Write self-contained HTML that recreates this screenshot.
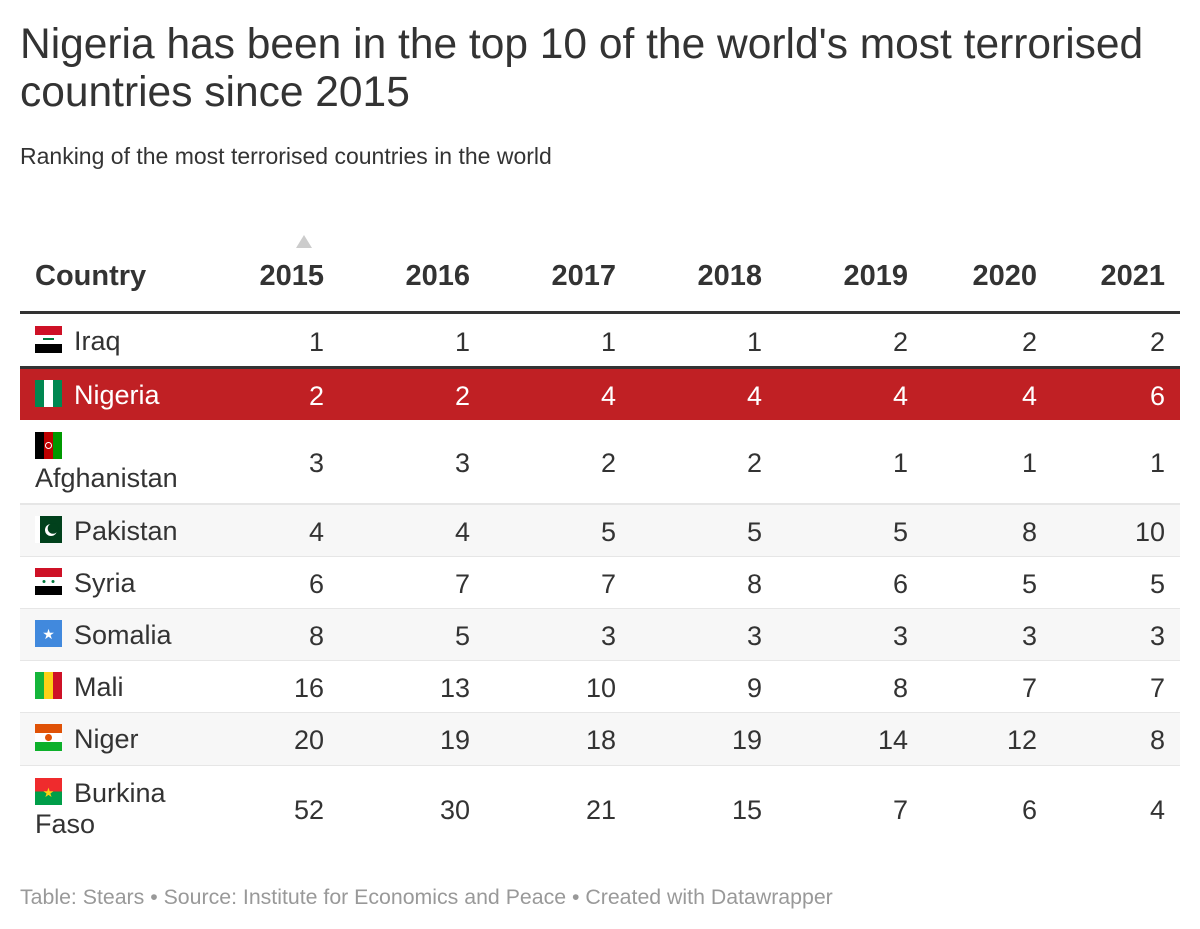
<!DOCTYPE html>
<html><head><meta charset="utf-8">
<style>
body{margin:0;width:1200px;height:929px;background:#fff;font-family:"Liberation Sans",Arial,sans-serif;color:#333;position:relative;overflow:hidden}
.abs{position:absolute}
#title{left:20px;top:21px;font-size:42.5px;line-height:48px;color:#333;width:1175px}
#sub{left:20px;top:143px;font-size:23px;color:#333}
.hd{font-weight:bold;font-size:29px;color:#333;top:260px}
.row{position:absolute;left:20px;width:1160px}
.cell{position:absolute;font-size:27px}
.name{position:absolute;font-size:27px;line-height:31px}
.flag{display:inline-block;width:27px;height:27px;vertical-align:-3px;margin-right:12px}
#foot{left:20px;top:885px;font-size:21.3px;color:#999}
</style></head><body>
<div class="abs" id="title">Nigeria has been in the top 10 of the world's most terrorised countries since 2015</div>
<div class="abs" id="sub">Ranking of the most terrorised countries in the world</div>
<div class="abs" style="left:296px;top:235px;width:0;height:0;border-left:8px solid transparent;border-right:8px solid transparent;border-bottom:13px solid #ccc"></div>
<div class="abs hd" style="left:35px">Country</div>
<div id="table"></div>
<div class="abs" style="left:20px;top:311px;width:1160px;height:3px;background:#333"></div>
<div class="abs" id="foot">Table: Stears • Source: Institute for Economics and Peace • Created with Datawrapper</div>
<script>
const years=["2015","2016","2017","2018","2019","2020","2021"];
const countries=["Iraq","Nigeria","Afghanistan","Pakistan","Syria","Somalia","Mali","Niger","Burkina Faso"];
const r2015=[1,2,3,4,6,8,16,20,52];
const r2016=[1,2,3,4,7,5,13,19,30];
const r2017=[1,4,2,5,7,3,10,18,21];
const r2018=[1,4,2,5,8,3,9,19,15];
const r2019=[2,4,1,5,6,3,8,14,7];
const r2020=[2,4,1,8,5,3,7,12,6];
const r2021=[2,6,1,10,5,3,7,8,4];
const series=[r2015,r2016,r2017,r2018,r2019,r2020,r2021];
const colRight=[324,470,616,762,908,1037,1165];
const flags={
"Iraq":'<svg class="flag" viewBox="0 0 27 27"><rect y="0" width="27" height="9" fill="#ce1126"/><rect y="9" width="27" height="9" fill="#fff"/><rect y="18" width="27" height="9" fill="#000"/><rect x="8" y="12" width="11" height="2" fill="#007a3d"/></svg>',
"Nigeria":'<svg class="flag" viewBox="0 0 27 27"><rect width="9" height="27" fill="#008751"/><rect x="9" width="9" height="27" fill="#fff"/><rect x="18" width="9" height="27" fill="#008751"/></svg>',
"Afghanistan":'<svg class="flag" viewBox="0 0 27 27"><rect width="9" height="27" fill="#000"/><rect x="9" width="9" height="27" fill="#be0000"/><rect x="18" width="9" height="27" fill="#009900"/><circle cx="13.5" cy="13.5" r="3" fill="none" stroke="#fff"/></svg>',
"Pakistan":'<svg class="flag" viewBox="0 0 27 27"><rect width="27" height="27" fill="#fff"/><rect x="5" width="22" height="27" fill="#01411c"/><circle cx="16" cy="14" r="6" fill="#fff"/><circle cx="18" cy="12.5" r="5.3" fill="#01411c"/></svg>',
"Syria":'<svg class="flag" viewBox="0 0 27 27"><rect width="27" height="9" fill="#ce1126"/><rect y="9" width="27" height="9" fill="#fff"/><rect y="18" width="27" height="9" fill="#000"/><circle cx="9" cy="13.5" r="1.5" fill="#007a3d"/><circle cx="18" cy="13.5" r="1.5" fill="#007a3d"/></svg>',
"Somalia":'<svg class="flag" viewBox="0 0 27 27"><rect width="27" height="27" fill="#4189dd"/><text x="13.5" y="19" font-size="14" fill="#fff" text-anchor="middle">★</text></svg>',
"Mali":'<svg class="flag" viewBox="0 0 27 27"><rect width="9" height="27" fill="#14b53a"/><rect x="9" width="9" height="27" fill="#fcd116"/><rect x="18" width="9" height="27" fill="#ce1126"/></svg>',
"Niger":'<svg class="flag" viewBox="0 0 27 27"><rect width="27" height="9" fill="#e05206"/><rect y="9" width="27" height="9" fill="#fff"/><rect y="18" width="27" height="9" fill="#0db02b"/><circle cx="13.5" cy="13.5" r="3.5" fill="#e05206"/></svg>',
"Burkina Faso":'<svg class="flag" viewBox="0 0 27 27"><rect width="27" height="13.5" fill="#ef2b2d"/><rect y="13.5" width="27" height="13.5" fill="#009e49"/><text x="13.5" y="19" font-size="13" fill="#fcd116" text-anchor="middle">★</text></svg>'
};
const rowTop=[315,369,420,504,556,608,660,712,765];
const rowH=[52,51,83,52,52,52,52,52,85];
const body=document.body;
years.forEach((y,j)=>{
  const h=document.createElement('div');
  
  
  h.className='abs hd';h.style.right=(1200-colRight[j])+'px';h.textContent=y;
  body.appendChild(h);
});
countries.forEach((c,i)=>{
  const row=document.createElement('div');
  
  
  row.className='row';row.style.top=rowTop[i]+'px';row.style.height=rowH[i]+'px';
  const hl=c==="Nigeria";
  row.style.background=hl?'#c02024':(i%2==1?'#f7f7f7':'#fff');
  if(!hl&&i!==0&&i!==2) row.style.borderTop='1px solid #e6e6e6';
  if(i===2) row.style.borderBottom='1px solid #e6e6e6';
  const col=hl?'#fff':'#333';
  const nm=document.createElement('div');
  
  
  nm.className='name';nm.style.left='15px';nm.style.color=col;
  if(rowH[i]>60){nm.style.top='12px';nm.style.width='150px';}else{nm.style.top='11px';}
  nm.innerHTML=flags[c]+c;
  row.appendChild(nm);
  series.forEach((s,j)=>{
    const v=document.createElement('div');
    
    
    v.className='cell';v.style.right=(1180-colRight[j])+'px';
    v.style.top=(rowH[i]/2-14)+'px';v.style.color=col;v.textContent=s[i];
    row.appendChild(v);
  });
  body.appendChild(row);
});
const sep=document.createElement('div');


sep.className='abs';sep.style.cssText='left:20px;top:366px;width:1160px;height:3px;background:#333';
body.appendChild(sep);
</script>
</body></html>
